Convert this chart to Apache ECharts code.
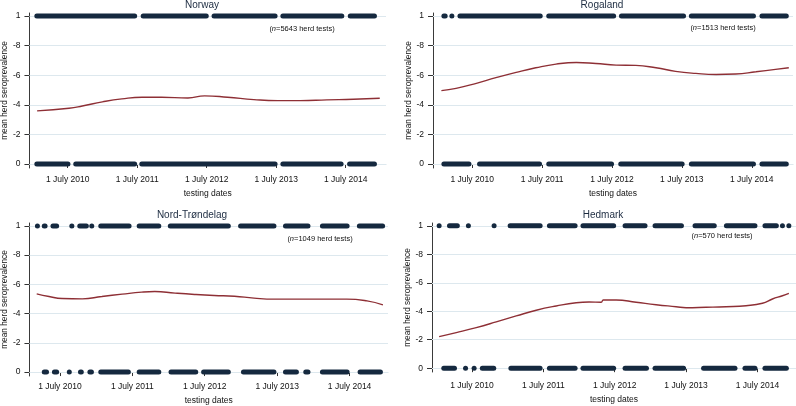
<!DOCTYPE html>
<html>
<head>
<meta charset="utf-8">
<script src="https://cdn.jsdelivr.net/npm/echarts@6/dist/echarts.min.js"></script>
<style>
html,body{margin:0;padding:0;background:#fff;}
#container{width:796px;height:406px;}
</style>
</head>
<body>
<div id="container"></div>
<script>
// panel names and counts
var panelNames = ['Norway', 'Rogaland', 'Nord-Trøndelag', 'Hedmark'];
var herdTests = [5643, 1513, 1049, 570];

// axis ticks (dates as decimal years)
var xTicks = [2010.5, 2011.5, 2012.5, 2013.5, 2014.5];
var yTicks = [0, 0.2, 0.4, 0.6, 0.8, 1];
var yTickLabels = ['0', '-2', '-4', '-6', '-8', '1'];

// runs of herd tests (start, end) - positive (1) and negative (0)
var norwayPos = [[2010.02,2011.50],[2011.55,2012.53],[2012.57,2013.52],[2013.56,2014.48],[2014.53,2014.95]];
var norwayNeg = [[2010.02,2010.54],[2010.58,2011.50],[2011.53,2013.52],[2013.56,2014.47],[2014.52,2014.95]];
var norwayTrend = [[2010.06,0.359],[2010.52,0.377],[2010.71,0.392],[2011.0,0.42],[2011.28,0.44],[2011.57,0.451],
    [2011.85,0.451],[2012.23,0.446],[2012.47,0.46],[2012.8,0.451],[2013.18,0.435],[2013.52,0.428],
    [2013.85,0.428],[2014.23,0.433],[2014.61,0.437],[2014.99,0.444]];

var rogalandPos = [[2010.06,2010.15],[2010.21,2010.21],[2010.29,2011.51],[2011.56,2012.56],[2012.6,2013.56],[2013.6,2014.56],[2014.61,2015.03]];
var rogalandNeg = [[2010.06,2010.49],[2010.57,2011.5],[2011.56,2012.53],[2012.59,2013.54],[2013.6,2014.56],[2014.61,2015.03]];
var rogalandTrend = [[2010.06,0.496],[2010.27,0.511],[2010.56,0.545],[2010.84,0.583],[2011.13,0.619],[2011.41,0.65],
    [2011.7,0.675],[2011.99,0.686],[2012.27,0.679],[2012.56,0.668],[2012.84,0.666],[2013.13,0.65],
    [2013.41,0.626],[2013.7,0.612],[2013.99,0.605],[2014.27,0.608],[2014.56,0.623],[2014.84,0.639],[2015.03,0.65]];

var trondelagPos = [[2010.16,2010.22],[2010.25,2010.33],[2010.37,2010.49],[2010.63,2010.7],[2010.74,2010.9],[2010.92,2010.96],
    [2011.03,2011.49],[2011.56,2011.9],[2011.99,2012.86],[2012.96,2013.49],[2013.58,2013.96],[2014.09,2014.5],[2014.6,2014.99]];
var trondelagNeg = [[2010.25,2010.35],[2010.39,2010.49],[2010.63,2010.63],[2010.75,2010.83],[2010.88,2010.97],[2011.03,2011.48],
    [2011.56,2011.9],[2012.0,2012.41],[2012.45,2012.86],[2013.0,2013.49],[2013.58,2013.8],[2013.86,2013.96],[2014.09,2014.5],[2014.61,2014.96]];
var trondelagTrend = [[2010.18,0.535],[2010.35,0.517],[2010.53,0.503],[2010.81,0.501],[2011.08,0.517],[2011.36,0.533],
    [2011.63,0.547],[2011.81,0.551],[2012.09,0.54],[2012.36,0.531],[2012.63,0.524],[2012.91,0.519],[2013.18,0.506],
    [2013.46,0.499],[2013.82,0.499],[2014.19,0.499],[2014.46,0.499],[2014.74,0.487],[2014.96,0.46]];

var hedmarkPos = [[2010.04,2010.04],[2010.15,2010.33],[2010.45,2010.45],[2010.81,2010.81],[2011.0,2011.49],[2011.55,2011.98],
    [2012.02,2012.52],[2012.61,2012.96],[2013.03,2013.47],[2013.59,2013.93],[2014.03,2014.5],[2014.57,2014.8],[2014.85,2014.85],[2014.94,2014.94]];
var hedmarkNeg = [[2010.07,2010.29],[2010.41,2010.41],[2010.53,2010.53],[2010.61,2010.84],[2011.01,2011.49],[2011.55,2011.98],
    [2012.02,2012.52],[2012.61,2012.98],[2013.03,2013.5],[2013.71,2014.22],[2014.29,2014.5],[2014.57,2014.94]];
var hedmarkTrend = [[2010.04,0.222],[2010.28,0.25],[2010.56,0.285],[2010.84,0.325],[2011.12,0.367],[2011.4,0.407],
    [2011.68,0.437],[2011.96,0.46],[2012.14,0.465],[2012.31,0.463],[2012.34,0.479],[2012.52,0.479],[2012.8,0.463],
    [2013.08,0.446],[2013.36,0.432],[2013.5,0.425],[2013.78,0.428],[2014.06,0.432],[2014.34,0.439],[2014.57,0.456],
    [2014.71,0.486],[2014.85,0.509],[2014.94,0.526]];

var posRuns = [norwayPos, rogalandPos, trondelagPos, hedmarkPos];
var negRuns = [norwayNeg, rogalandNeg, trondelagNeg, hedmarkNeg];
var trends = [norwayTrend, rogalandTrend, trondelagTrend, hedmarkTrend];

var FONT = 'Liberation Sans, Arial, sans-serif';
var DOT = '#15293f';
var TREND = '#8e2f35';

// per panel layout
var layout = [
    {grid:{left:27, top:13, width:359, height:155}, xMin:2009.95, xMax:2015.08, lblMargin:7, nameGap:21, title:[202,5.5], note:[302,28.5]},
    {grid:{left:433, top:13, width:360, height:155}, xMin:2009.94, xMax:2015.09, lblMargin:7, nameGap:21, title:[602,5.5], note:[723,27.5]},
    {grid:{left:27, top:223, width:361, height:153}, xMin:2010.08, xMax:2015.03, lblMargin:6, nameGap:20, title:[192,215], note:[320,239]},
    {grid:{left:432, top:223, width:364, height:149}, xMin:2009.94, xMax:2015.04, lblMargin:9, nameGap:23, title:[603,215], note:[722,236]}
];

function yLabel(v){
    for (var i = 0; i < yTicks.length; i++) {
        if (Math.abs(yTicks[i] - v) < 1e-6) return yTickLabels[i];
    }
    return '';
}

function renderRun(params, api){
    var a = api.coord([api.value(0), api.value(2)]);
    var b = api.coord([api.value(1), api.value(2)]);
    var x = a[0];
    var w = b[0] - a[0];
    if (w < 5) {
        x = (a[0] + b[0]) / 2 - 2.5;
        w = 5;
    }
    return {
        type: 'rect',
        shape: {x: x, y: a[1] - 2.5, width: w, height: 5, r: 2.5},
        style: {fill: DOT}
    };
}

var option = {
    backgroundColor: '#fff',
    animation: false,
    grid: [],
    xAxis: [],
    yAxis: [],
    series: [],
    graphic: []
};

for (var i = 0; i < 4; i++) {
    var L = layout[i];
    option.grid.push(L.grid);
    option.xAxis.push({
        type: 'value',
        gridIndex: i,
        min: L.xMin,
        max: L.xMax,
        axisLine: {show: true, lineStyle: {color: '#d6e0e6', width: 1}},
        axisTick: {show: true, customValues: xTicks, length: 4, lineStyle: {color: '#333'}},
        axisLabel: {
            customValues: xTicks,
            formatter: function(v){ return '1 July ' + Math.floor(v); },
            fontSize: 8.5, color: '#111', fontFamily: FONT, margin: L.lblMargin
        },
        splitLine: {show: false},
        name: 'testing dates',
        nameLocation: 'middle',
        nameGap: L.nameGap,
        nameTextStyle: {fontSize: 8.5, color: '#111', fontFamily: FONT}
    });
    option.yAxis.push({
        type: 'value',
        gridIndex: i,
        min: -0.027,
        max: 1.02,
        axisLine: {show: true, lineStyle: {color: '#3a3a3a', width: 1}},
        axisTick: {show: true, customValues: yTicks, length: 5, lineStyle: {color: '#333'}},
        axisLabel: {customValues: yTicks, formatter: yLabel, fontSize: 8.5, color: '#111', fontFamily: FONT, margin: 9},
        splitLine: {show: false},
        name: 'mean herd seroprevalence',
        nameLocation: 'middle',
        nameGap: 17,
        nameTextStyle: {fontSize: 8.3, color: '#111', fontFamily: FONT}
    });

    var runs = [];
    posRuns[i].forEach(function(r){ runs.push([r[0], r[1], 1]); });
    negRuns[i].forEach(function(r){ runs.push([r[0], r[1], 0]); });

    option.series.push({
        type: 'line',
        xAxisIndex: i,
        yAxisIndex: i,
        data: trends[i],
        smooth: 0.5,
        showSymbol: false,
        lineStyle: {color: TREND, width: 1.4},
        z: 3,
        markLine: {
            silent: true,
            z: 1,
            symbol: 'none',
            label: {show: false},
            lineStyle: {color: '#dde8ee', width: 1, type: 'solid'},
            data: yTicks.map(function(v){ return {yAxis: v}; })
        }
    });
    option.series.push({
        type: 'custom',
        xAxisIndex: i,
        yAxisIndex: i,
        renderItem: renderRun,
        encode: {x: [0, 1], y: 2},
        data: runs,
        clip: false,
        z: 6
    });

    option.graphic.push({
        type: 'text',
        x: L.title[0], y: L.title[1],
        style: {text: panelNames[i], fontSize: 10, fontFamily: FONT, fill: '#1c2b40', align: 'center', verticalAlign: 'middle'}
    });
    option.graphic.push({
        type: 'text',
        x: L.note[0], y: L.note[1],
        style: {
            text: '({i|n}=' + herdTests[i] + ' herd tests)',
            fontSize: 7.5, fontFamily: FONT, fill: '#111', align: 'center', verticalAlign: 'middle',
            rich: {i: {fontStyle: 'italic', fontSize: 7.5, fontFamily: FONT, fill: '#111'}}
        }
    });
}

var myChart = echarts.init(document.getElementById('container'), null, {renderer: 'canvas'});
myChart.setOption(option);
</script>
</body>
</html>
